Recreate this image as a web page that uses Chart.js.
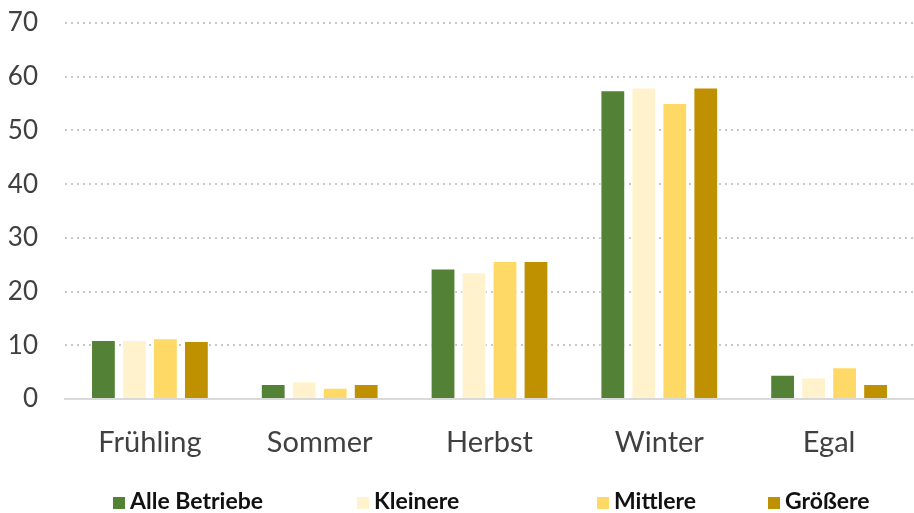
<!DOCTYPE html>
<html>
<head>
<meta charset="utf-8">
<script src="https://cdn.jsdelivr.net/npm/chart.js@4"></script>
<style>
  html, body { margin: 0; padding: 0; background: #fff; }
  #wrap { width: 914px; height: 513px; position: relative; }
  #legend { position: absolute; left: 0; top: 487px; width: 914px; height: 26px; font-family: Lato, "Noto Sans", sans-serif; font-weight: bold; font-size: 23px; color: #111; }
  #legend .item { position: absolute; top: 0; white-space: nowrap; line-height: 26px; }
  #legend .box { display: inline-block; width: 12px; height: 12px; margin-right: 5px; vertical-align: 0px; }
</style>
</head>
<body>
<div id="wrap"><canvas id="season-chart"></canvas><div id="legend"></div></div>
<script>
// Categories and values
const categories = ['Frühling', 'Sommer', 'Herbst', 'Winter', 'Egal'];
const alleBetriebe = [11.0, 2.8, 24.3, 57.5, 4.5];
const kleinere = [11.0, 3.3, 23.6, 58.0, 4.0];
const mittlere = [11.3, 2.1, 25.7, 55.1, 5.9];
const groessere = [10.8, 2.8, 25.7, 58.0, 2.8];
const yTicks = [0, 10, 20, 30, 40, 50, 60, 70];

const fontFamily = 'Lato, "Noto Sans", sans-serif';

function bars(label, data, color) {
    return {
        label: label,
        data: data,
        backgroundColor: color,
        borderColor: '#ffffff',
        borderWidth: 1,
        categoryPercentage: 0.73,
        barPercentage: 0.8
    };
}

const ctx = document.getElementById('season-chart').getContext('2d');
const chart = new Chart(ctx, {
    type: 'bar',
    data: {
        labels: categories,
        datasets: [
            bars('Alle Betriebe', alleBetriebe, '#538135'),
            bars('Kleinere', kleinere, '#FFF2CC'),
            bars('Mittlere', mittlere, '#FFD966'),
            bars('Größere', groessere, '#BF9000')
        ]
    },
    options: {
        responsive: true,
        maintainAspectRatio: false,
        animation: false,
        layout: {
            padding: { left: 0, right: 0, top: 23, bottom: 0 }
        },
        plugins: {
            legend: { display: false },
            tooltip: { enabled: false }
        },
        scales: {
            x: {
                grid: { display: false },
                border: { display: true, color: '#d9d9d9', width: 2 },
                ticks: {
                    color: '#404040',
                    padding: 18,
                    font: { family: fontFamily, size: 29 }
                },
                afterFit: function(scale) {
                    scale.height = 114;
                    scale.paddingLeft = 0;
                    scale.paddingRight = 0;
                }
            },
            y: {
                min: yTicks[0],
                max: yTicks[yTicks.length - 1],
                afterBuildTicks: function(scale) {
                    scale.ticks = yTicks.map(v => ({ value: v }));
                },
                afterFit: function(scale) {
                    scale.width = 65;
                    scale.paddingTop = 0;
                    scale.paddingBottom = 0;
                },
                grid: {
                    color: '#c8c8c8',
                    lineWidth: 2,
                    drawTicks: false
                },
                border: { display: false, dash: [2, 4] },
                ticks: {
                    color: '#404040',
                    padding: 27,
                    font: { family: fontFamily, size: 26 }
                }
            }
        }
    }
});

// Legend built from the datasets, items spaced like the original
const legendLeft = [113, 357, 597, 768];
const legendEl = document.getElementById('legend');
chart.data.datasets.forEach(function(ds, i) {
    const item = document.createElement('span');
    item.className = 'item';
    item.style.left = legendLeft[i] + 'px';
    const box = document.createElement('span');
    box.className = 'box';
    box.style.background = ds.backgroundColor;
    item.appendChild(box);
    item.appendChild(document.createTextNode(ds.label));
    legendEl.appendChild(item);
});
</script>
</body>
</html>
